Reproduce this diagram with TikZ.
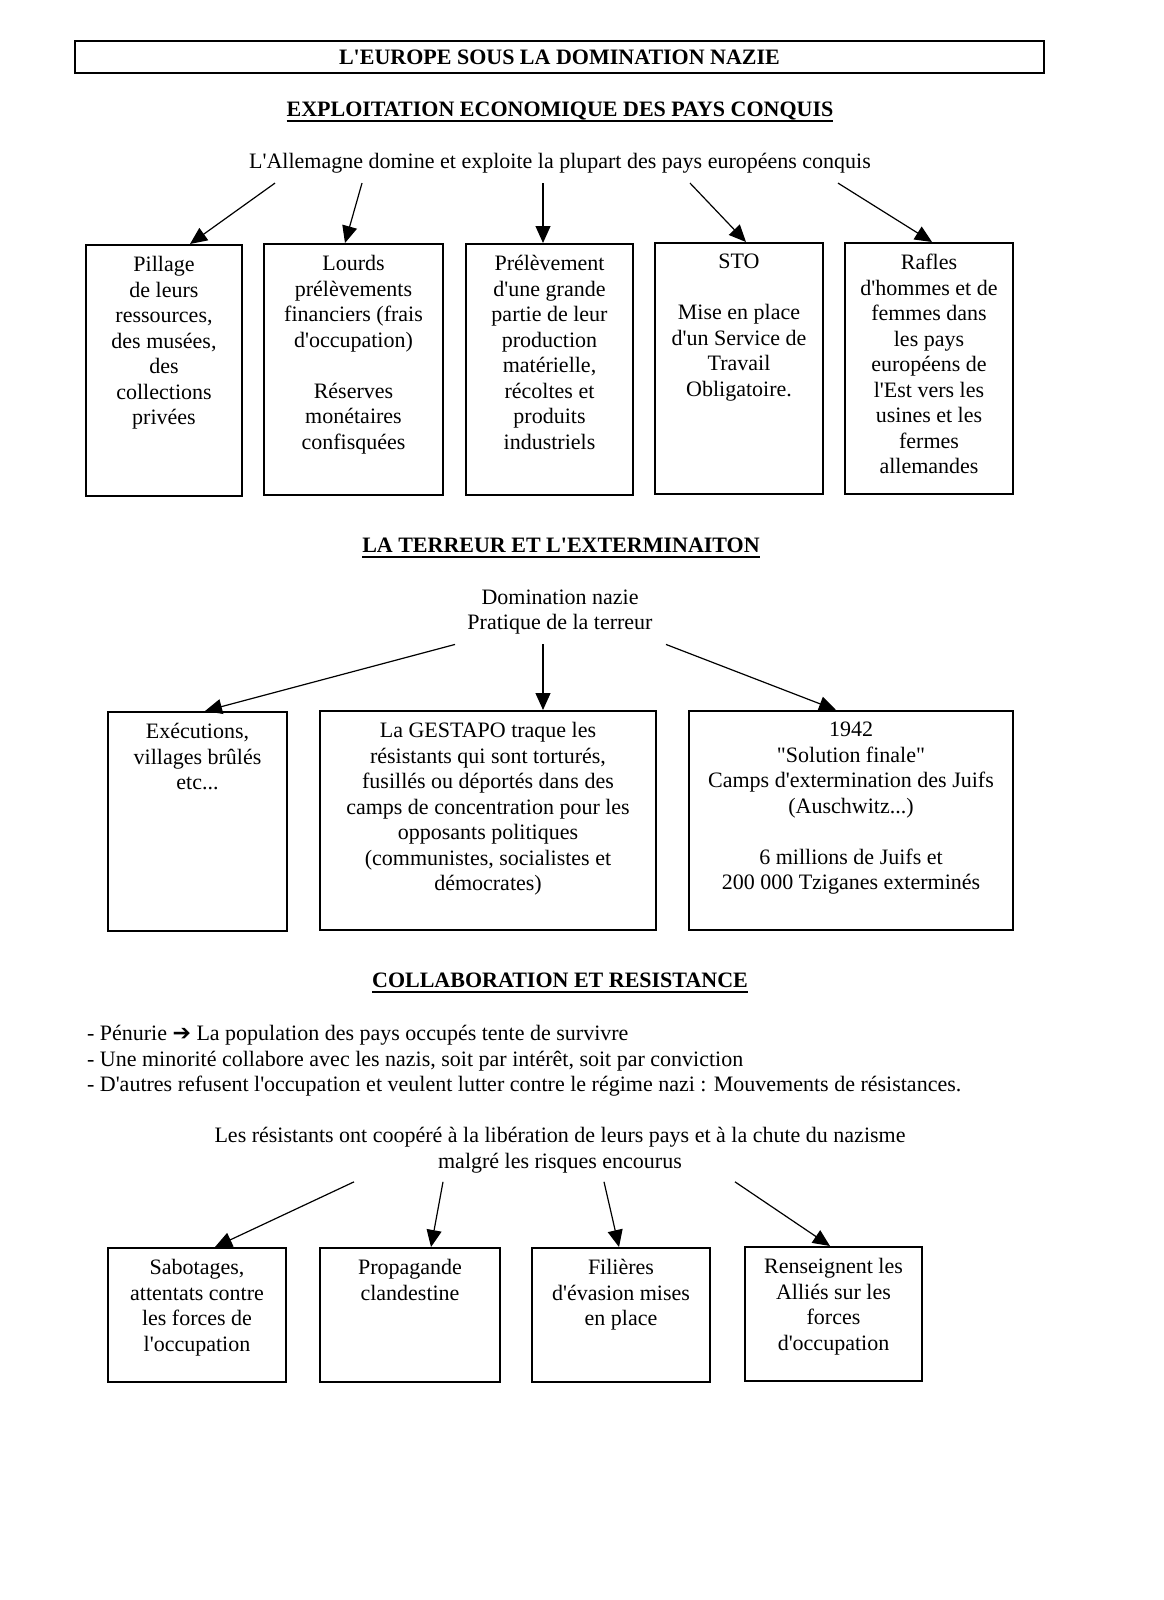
\documentclass[tikz,border=0pt]{standalone}
\usepackage{fontspec}
\setmainfont{Liberation Serif}[Ligatures=TeXOff]
\newfontfamily\symfont{DejaVu Sans}
\usetikzlibrary{arrows.meta, calc}
\newcommand{\souligne}[1]{\setbox0=\hbox{#1}\rlap{\rule[-2.5pt]{\wd0}{0.7pt}}\box0}

\begin{document}
\begin{tikzpicture}[x=0.5pt, y=-0.5pt,
  every node/.style={font=\fontsize{11}{12.75}\selectfont},
  titre/.style={font=\fontsize{11}{12.75}\selectfont\bfseries},
  boite/.style={draw, line width=0.9pt, anchor=north},
  texte/.style={anchor=north, align=center, inner sep=0pt},
  fleche/.style={line width=0.6pt, -{Triangle[length=8.5pt, width=7.5pt]}}]
\useasboundingbox (0,0) rectangle (1163,1600);

\node[titre, draw, line width=0.6pt, minimum width=484.5pt, minimum height=16pt] (titre) at (559.5,57) {L'EUROPE SOUS LA DOMINATION NAZIE};

\node[titre] (exploitation) at (560,112) {\souligne{EXPLOITATION ECONOMIQUE DES PAYS CONQUIS}};
\node (allemagne) at (560,163) {L'Allemagne domine et exploite la plupart des pays européens conquis};

\node[boite, minimum width=78pt, minimum height=125.5pt] (pillage) at (164,244) {};
\node[boite, minimum width=89.5pt, minimum height=125.5pt] (finances) at (353.5,243) {};
\node[boite, minimum width=83.5pt, minimum height=125.5pt] (production) at (549.5,243) {};
\node[boite, minimum width=84pt, minimum height=125.5pt] (sto) at (739,242) {};
\node[boite, minimum width=84pt, minimum height=125.5pt] (rafles) at (929,242) {};

\node[texte] (pillage-t) at ($(pillage.north)+(0,12)$) {Pillage\\de leurs\\ressources,\\des musées,\\des\\collections\\privées};
\node[texte] (finances-t) at ($(finances.north)+(0,12)$) {Lourds\\prélèvements\\financiers (frais\\d'occupation)\\[12.75pt]Réserves\\monétaires\\confisquées};
\node[texte] (production-t) at ($(production.north)+(0,12)$) {Prélèvement\\d'une grande\\partie de leur\\production\\matérielle,\\récoltes et\\produits\\industriels};
\node[texte] (sto-t) at ($(sto.north)+(0,12)$) {STO\\[12.75pt]Mise en place\\d'un Service de\\Travail\\Obligatoire.};
\node[texte] (rafles-t) at ($(rafles.north)+(0,12)$) {Rafles\\d'hommes et de\\femmes dans\\les pays\\européens de\\l'Est vers les\\usines et les\\fermes\\allemandes};

\draw[fleche] ($(allemagne.south)+(-285,3)$) -- ($(pillage.north)+(26,0)$);
\draw[fleche] ($(allemagne.south)+(-198,3)$) -- ($(finances.north)+(-8.5,0)$);
\draw[fleche] ($(allemagne.south)+(-17,3)$) -- ($(production.north)+(-6.5,0)$);
\draw[fleche] ($(allemagne.south)+(130,3)$) -- ($(sto.north)+(7,0)$);
\draw[fleche] ($(allemagne.south)+(278,3)$) -- ($(rafles.north)+(3,0)$);

\node[titre] (terreur) at (561,548) {\souligne{LA TERREUR ET L'EXTERMINAITON}};
\node[align=center] (domination) at (560,612) {Domination nazie\\Pratique de la terreur};

\node[boite, minimum width=89.5pt, minimum height=109.5pt] (executions) at (197.5,711) {};
\node[boite, minimum width=168pt, minimum height=109.5pt] (gestapo) at (488,710) {};
\node[boite, minimum width=162pt, minimum height=109.5pt] (extermination) at (851,710) {};

\node[texte] (executions-t) at ($(executions.north)+(0,12)$) {Exécutions,\\villages brûlés\\etc...};
\node[texte] (gestapo-t) at ($(gestapo.north)+(0,12)$) {La GESTAPO traque les\\résistants qui sont torturés,\\fusillés ou déportés dans des\\camps de concentration pour les\\opposants politiques\\(communistes, socialistes et\\démocrates)};
\node[texte] (extermination-t) at ($(extermination.north)+(0,12)$) {1942\\"Solution finale"\\Camps d'extermination des Juifs\\(Auschwitz...)\\[12.75pt]6 millions de Juifs et\\200 000 Tziganes exterminés};

\draw[fleche] ($(domination.south)+(-105,3)$) -- ($(executions.north)+(7.5,0)$);
\draw[fleche] ($(domination.south)+(-17,3)$) -- ($(gestapo.north)+(55,0)$);
\draw[fleche] ($(domination.south)+(106,3)$) -- ($(extermination.north)+(-15,0)$);

\node[titre] (collaboration) at (560,983) {\souligne{COLLABORATION ET RESISTANCE}};
\node[anchor=west, align=left] (constat) at (80,1061) {- Pénurie {\symfont ➔} La population des pays occupés tente de survivre\\- Une minorité collabore avec les nazis, soit par intérêt, soit par conviction\\- D'autres refusent l'occupation et veulent lutter contre le régime nazi : Mouvements de résistances.};
\node[align=center] (resistants) at (560,1150) {Les résistants ont coopéré à la libération de leurs pays et à la chute du nazisme\\malgré les risques encourus};

\node[boite, minimum width=89pt, minimum height=67pt] (sabotages) at (197,1247) {};
\node[boite, minimum width=90pt, minimum height=67pt] (propagande) at (410,1247) {};
\node[boite, minimum width=89pt, minimum height=67pt] (filieres) at (621,1247) {};
\node[boite, minimum width=88.5pt, minimum height=67pt] (renseignement) at (833.5,1246) {};

\node[texte] (sabotages-t) at ($(sabotages.north)+(0,12)$) {Sabotages,\\attentats contre\\les forces de\\l'occupation};
\node[texte] (propagande-t) at ($(propagande.north)+(0,12)$) {Propagande\\clandestine};
\node[texte] (filieres-t) at ($(filieres.north)+(0,12)$) {Filières\\d'évasion mises\\en place};
\node[texte] (renseignement-t) at ($(renseignement.north)+(0,12)$) {Renseignent les\\Alliés sur les\\forces\\d'occupation};

\draw[fleche] ($(resistants.south)+(-206,2)$) -- ($(sabotages.north)+(18,0)$);
\draw[fleche] ($(resistants.south)+(-117,2)$) -- ($(propagande.north)+(21,0)$);
\draw[fleche] ($(resistants.south)+(44,2)$) -- ($(filieres.north)+(-2,0)$);
\draw[fleche] ($(resistants.south)+(175,2)$) -- ($(renseignement.north)+(-3.5,0)$);
\end{tikzpicture}
\end{document}
